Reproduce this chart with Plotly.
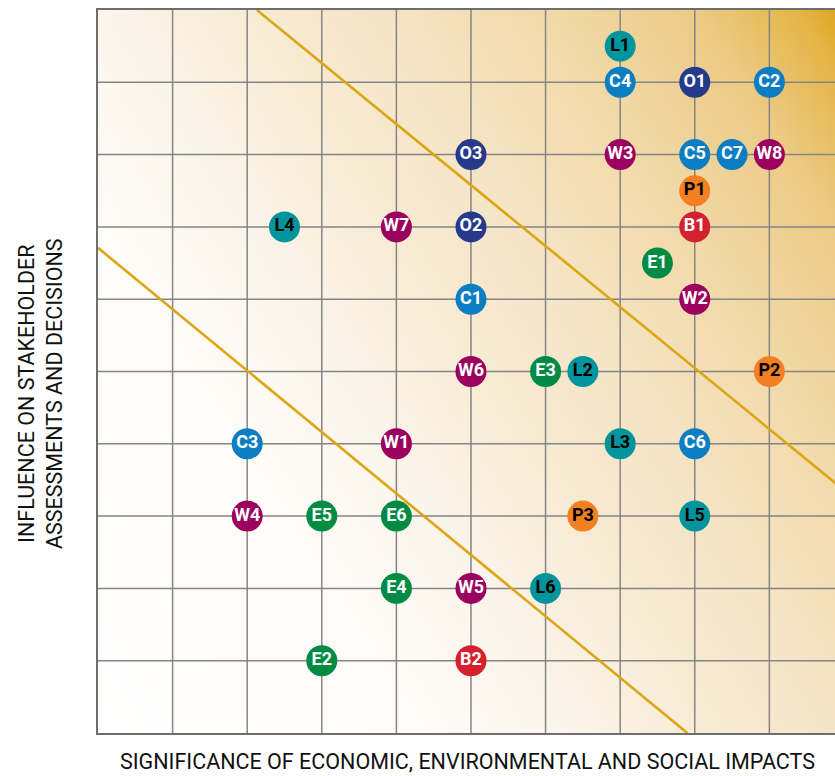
import numpy as np
import plotly.graph_objects as go

# Material topics: code, significance of impacts (x), influence on stakeholders (y)
codes = ["L1", "C4", "O1", "C2", "O3", "W3", "C5", "C7", "W8", "P1",
         "L4", "W7", "O2", "B1", "E1", "C1", "W2", "W6", "E3", "L2",
         "P2", "C3", "W1", "L3", "C6", "W4", "E5", "E6", "P3", "L5",
         "E4", "W5", "L6", "E2", "B2"]
significance = [7, 7, 8, 9, 5, 7, 8, 8.5, 9, 8,
                2.5, 4, 5, 8, 7.5, 5, 8, 5, 6, 6.5,
                9, 2, 4, 7, 8, 2, 3, 4, 6.5, 8,
                4, 5, 6, 3, 5]
influence = [9.5, 9, 9, 9, 8, 8, 8, 8, 8, 7.5,
             7, 7, 7, 7, 6.5, 6, 6, 5, 5, 5,
             5, 4, 4, 4, 4, 3, 3, 3, 3, 3,
             2, 2, 2, 1, 1]

# Topic groups by code prefix
group_colors = {
    "L": "#00959c", "C": "#0b7dc2", "O": "#263a8c", "W": "#9b005f",
    "P": "#f28021", "B": "#d5202e", "E": "#008b45",
}
group_text = {"L": "black", "P": "black"}

# Materiality threshold lines (x, y end points)
upper_threshold_x = [2.13, 10]
upper_threshold_y = [10, 3.36]
lower_threshold_x = [0, 7.9]
lower_threshold_y = [6.71, 0]

X_MAX = 9.88
Y_MAX = 10
PX_X = 74.6   # pixels per x unit
PX_Y = 72.3   # pixels per y unit

fig = go.Figure()

# Linear background wash rising toward the upper-right corner
gx = np.linspace(-0.1, X_MAX + 0.1, 120)
gy = np.linspace(-0.1, Y_MAX + 0.1, 120)
GX, GY = np.meshgrid(gx, gy)
ramp = GX * PX_X + 0.64 * GY * PX_Y
ramp = np.clip(ramp / (X_MAX * PX_X + 0.64 * Y_MAX * PX_Y), 0, 1)
fig.add_trace(go.Heatmap(
    x=gx, y=gy, z=ramp, zmin=0, zmax=1, zsmooth="best", showscale=False,
    hoverinfo="skip",
    colorscale=[[0, "#ffffff"], [0.27, "#fefcf8"], [0.4, "#fbf4ea"],
                [0.5, "#f8ecd6"], [0.63, "#f5e4c4"], [0.76, "#f1d9a8"],
                [0.886, "#ecca84"], [0.97, "#e4b445"], [1.0, "#dea622"]],
))

# Grid drawn over the wash
gxs, gys = [], []
for v in range(1, 10):
    gxs += [v, v, None]
    gys += [0, Y_MAX, None]
for v in range(1, 10):
    gxs += [0, X_MAX, None]
    gys += [v, v, None]
fig.add_trace(go.Scatter(x=gxs, y=gys, mode="lines", hoverinfo="skip",
                         line=dict(color="#858585", width=1.5), showlegend=False))

# Threshold lines
for lx, ly in [(upper_threshold_x, upper_threshold_y),
               (lower_threshold_x, lower_threshold_y)]:
    fig.add_trace(go.Scatter(x=lx, y=ly, mode="lines", hoverinfo="skip",
                             line=dict(color="#dca613", width=2.6), showlegend=False))

# Topic bubbles
for g, col in group_colors.items():
    idx = [i for i, c in enumerate(codes) if c[0] == g]
    fig.add_trace(go.Scatter(
        x=[significance[i] for i in idx],
        y=[influence[i] for i in idx],
        text=[codes[i] for i in idx],
        mode="markers+text",
        textposition="middle center",
        marker=dict(size=31, color=col, line=dict(width=0)),
        textfont=dict(family="Roboto, sans-serif", size=18,
                      color=group_text.get(g, "white"), weight="bold"),
        cliponaxis=False,
        showlegend=False,
        name=g,
    ))

title_font = dict(family="Roboto, sans-serif", size=21.5, color="#111111", weight=400)

fig.update_layout(
    width=835, height=776,
    margin=dict(l=98, r=0, t=10, b=43),
    paper_bgcolor="white", plot_bgcolor="white",
    xaxis=dict(range=[0, X_MAX], showgrid=False, zeroline=False, showticklabels=False,
               ticks="", showline=True, linecolor="#6e6e6e", linewidth=2, mirror=True),
    yaxis=dict(range=[0, Y_MAX], showgrid=False, zeroline=False, showticklabels=False,
               ticks="", showline=True, linecolor="#6e6e6e", linewidth=2),
    annotations=[
        dict(text="SIGNIFICANCE OF ECONOMIC, ENVIRONMENTAL AND SOCIAL IMPACTS",
             xref="paper", yref="paper", x=0.502, y=-0.04, xanchor="center",
             yanchor="middle", showarrow=False, font=title_font),
        dict(text="INFLUENCE ON STAKEHOLDER<br>ASSESSMENTS AND DECISIONS",
             xref="paper", yref="paper", x=(40 - 98) / 737, y=(733 - 394) / 723,
             xanchor="center", yanchor="middle", textangle=-90, showarrow=False,
             font=title_font),
    ],
)

fig.write_html("out.html")
